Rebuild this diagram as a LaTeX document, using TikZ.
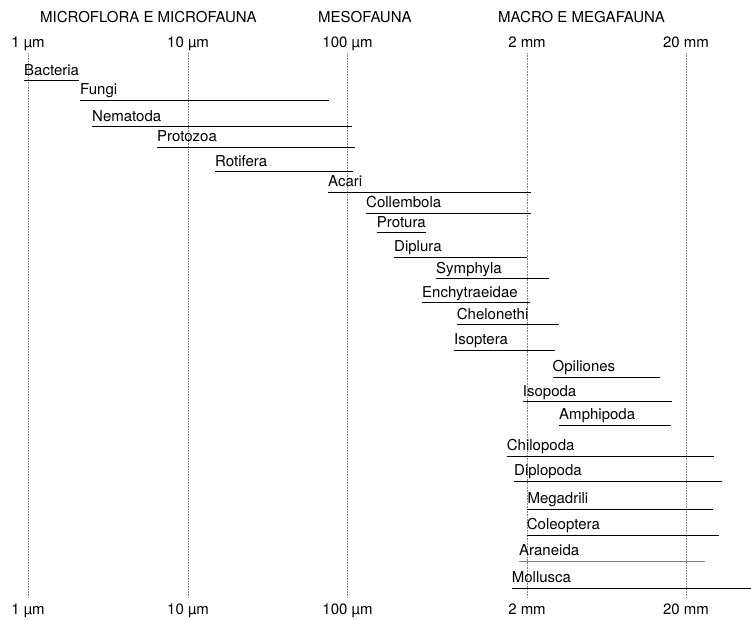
\documentclass[tikz,border=0pt]{standalone}
\usepackage{fontspec}
\setmainfont{TeX Gyre Heros}
\begin{document}
\begin{tikzpicture}[x=1pt,y=-1pt,
    txt/.style={inner sep=0pt, font=\fontsize{15}{17}\selectfont},
    taxon/.style={txt, anchor=base west},
    bar/.style={line width=0.9pt},
    guide/.style={densely dotted, gray, line width=0.6pt}]
  \useasboundingbox (0,0) rectangle (751,619);
  % group headings
  \node[txt, anchor=base west] (micro) at (40,22) {MICROFLORA E MICROFAUNA};
  \node[txt, anchor=base west] (meso) at (318,22) {MESOFAUNA};
  \node[txt, anchor=base west] (macro) at (498,22) {MACRO E MEGAFAUNA};
  % size scale, top and bottom
  \foreach \n/\x/\t in {a/28/1 µm, b/188/10 µm, c/347.5/100 µm, d/527/2 mm, e/686/20 mm} {
    \node[txt, anchor=base] (top\n) at (\x,47) {\t};
    \node[txt, anchor=base] (bot\n) at (\x,614) {\t};
    \draw[guide] (\x,53) -- (\x,598);
  }
  % size range of each group
  \foreach \name/\y/\xa/\xb/\col in {
      Bacteria/80.7/24/79/black,
      Fungi/100/80/329/black,
      Nematoda/126.7/92/352/black,
      Protozoa/147.3/157/355/black,
      Rotifera/171.7/215/353/black,
      Acari/192/328/530.7/black,
      Collembola/213.3/366/530.7/black,
      Protura/232.7/376.7/426/black,
      Diplura/257.3/394/527/black,
      Symphyla/278.7/436/549.3/black,
      Enchytraeidae/302.7/422/530/black,
      Chelonethi/324.7/456.7/559/black,
      Isoptera/350/454/555/black,
      Opiliones/377.3/552.5/660/black,
      Isopoda/401.7/522.7/672.3/black,
      Amphipoda/425/559/671/black,
      Chilopoda/456/506.7/714.3/black,
      Diplopoda/481/514/721.7/black,
      Megadrili/509/527.3/713.3/black,
      Coleoptera/535/526.7/719.3/black,
      Araneida/561/519/705/gray,
      Mollusca/588.3/511.7/751/black} {
    \node[taxon] (\name) at (\xa,\y-5.5) {\name};
    \draw[bar, \col] (\xa,\y) -- (\xb,\y);
  }
\end{tikzpicture}
\end{document}
